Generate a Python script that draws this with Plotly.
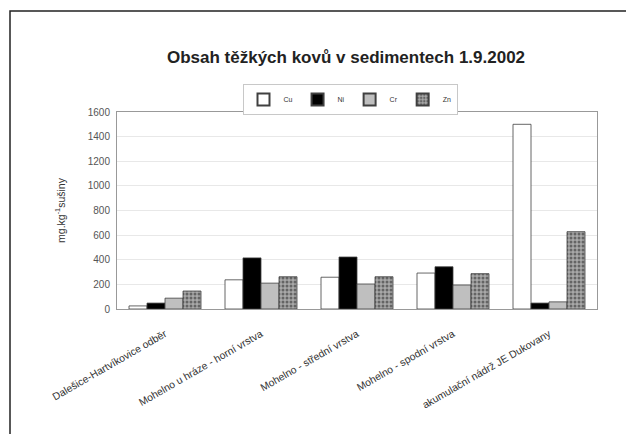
import plotly.graph_objects as go

# Sampling sites along the Dalešice–Mohelno system and Dukovany reservoir
sites = [
    "Dalešice-Hartvíkovice odběr",
    "Mohelno u hráze - horní vrstva",
    "Mohelno - střední vrstva",
    "Mohelno - spodní vrstva",
    "akumulační nádrž JE Dukovany",
]

# Heavy-metal content in sediments, mg/kg dry matter
cu = [25, 237, 258, 292, 1500]
ni = [48, 415, 422, 343, 48]
cr = [88, 210, 203, 195, 58]
zn = [146, 262, 262, 287, 628]

W, H = 626, 434
L, R, T, B = 117, 29, 112, 125
pw, ph = W - L - R, H - T - B


def px(x):
    return (x - L) / pw


def py(y):
    return (H - B - y) / ph


fig = go.Figure()
line = dict(color="#404040", width=0.8)
fig.add_bar(name="Cu", x=sites, y=cu, marker=dict(color="white", line=line))
fig.add_bar(name="Ni", x=sites, y=ni, marker=dict(color="black", line=line))
fig.add_bar(name="Cr", x=sites, y=cr, marker=dict(color="#bfbfbf", line=line))
fig.add_bar(
    name="Zn", x=sites, y=zn,
    marker=dict(
        color="#8c8c8c", line=line,
        pattern=dict(shape=".", fgcolor="#202020", bgcolor="#a8a8a8", size=4, solidity=0.45),
    ),
)

font = "Liberation Sans, Arial, sans-serif"
fig.update_layout(
    width=W, height=H,
    margin=dict(l=L, r=R, t=T, b=B, pad=0),
    paper_bgcolor="white", plot_bgcolor="white",
    barmode="group", bargap=0.25, bargroupgap=0,
    font=dict(family=font, size=9, color="#333"),
    title=dict(
        text="<b>Obsah těžkých kovů v sedimentech 1.9.2002</b>",
        x=px(346), xref="paper", xanchor="center",
        y=1 - 57 / H, yref="container", yanchor="middle",
        font=dict(family=font, size=17, color="#222"),
    ),
    legend=dict(
        orientation="h", x=px(350), xanchor="center", y=py(84), yanchor="top",
        bordercolor="#c8c8c8", borderwidth=1, font=dict(size=7, color="#333"),
        itemwidth=30, tracegroupgap=0, itemsizing="constant",
    ),
    xaxis=dict(
        tickangle=-30, showline=True, linecolor="#999", linewidth=1,
        ticks="", tickfont=dict(size=10.4, color="#333"), mirror=True,
        ticklabelstandoff=14,
    ),
    yaxis=dict(
        range=[0, 1600], dtick=200, showgrid=True, gridcolor="#e8e8e8",
        showline=True, linecolor="#999", linewidth=1, mirror=True,
        zeroline=False, ticks="", tickfont=dict(size=10, color="#555"),
        ticklabelstandoff=4,
        title=dict(text="mg.kg<sup>-1</sup>sušiny", font=dict(size=10.5, color="#333"), standoff=20),
    ),
    shapes=[
        dict(type="rect", xref="paper", yref="paper",
             x0=px(10), x1=px(640), y0=py(450), y1=py(11),
             line=dict(color="#222", width=1.5), layer="below"),
    ],
)

fig.write_html("out.html")
